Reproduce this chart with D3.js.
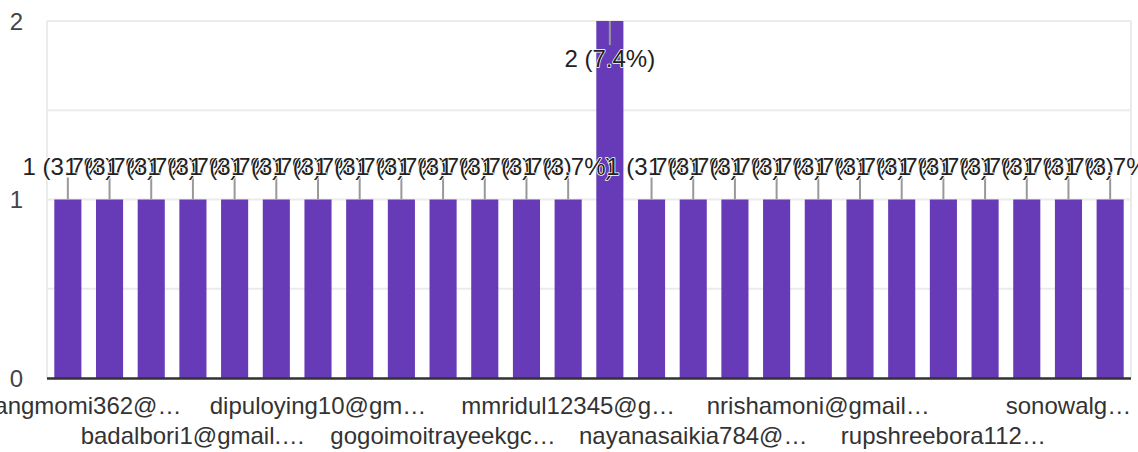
<!DOCTYPE html>
<html>
<head>
<meta charset="utf-8">
<script src="https://cdn.jsdelivr.net/npm/d3@7"></script>
<style>
	body { margin: 0; background: #fff; }
	text { font-family: Arial, "Liberation Sans", sans-serif; }
</style>
</head>
<body>
<div id="chart-area"></div>
<script>
// responses (only every third label is printed on the axis)
var categories = [
	"dohangmomi362@…", "", "", "badalbori1@gmail.…", "", "",
	"dipuloying10@gm…", "", "", "gogoimoitrayeekgc…", "", "",
	"mmridul12345@g…", "", "", "nayanasaikia784@…", "", "",
	"nrishamoni@gmail…", "", "", "rupshreebora112…", "", "",
	"sonowalg…", ""
];
var counts = [1,1,1,1,1,1,1,1,1,1,1,1,1,2,1,1,1,1,1,1,1,1,1,1,1,1];
var yTicks = [0, 1, 2];
var gridValues = [0, 0.5, 1, 1.5, 2];

var width = 1138, height = 452;
var total = d3.sum(counts);

var svg = d3.select("#chart-area")
	.append("svg")
		.attr("width", width)
		.attr("height", height);

//scales
var x = d3.scaleBand()
	.domain(d3.range(counts.length))
	.range([47, 1131])
	.paddingInner(0.35)
	.paddingOuter(0.175);

var y = d3.scaleLinear()
	.domain([0, 2])
	.range([378, 21]);

//grid box
svg.selectAll("line.grid")
	.data(gridValues)
	.enter().append("line")
		.attr("class", "grid")
		.attr("x1", 47)
		.attr("x2", 1131)
		.attr("y1", function(d){ return y(d); })
		.attr("y2", function(d){ return y(d); })
		.attr("stroke", "#ebebeb")
		.attr("stroke-width", 2);

svg.selectAll("line.vgrid")
	.data([47, 1131])
	.enter().append("line")
		.attr("class", "vgrid")
		.attr("x1", function(d){ return d; })
		.attr("x2", function(d){ return d; })
		.attr("y1", y(2))
		.attr("y2", y(0))
		.attr("stroke", "#ebebeb")
		.attr("stroke-width", 2);

//y labels
svg.selectAll("text.ytick")
	.data(yTicks)
	.enter().append("text")
		.attr("class", "ytick")
		.attr("x", 23)
		.attr("y", function(d){ return y(d) + 8.5; })
		.attr("text-anchor", "end")
		.attr("font-size", 24)
		.attr("fill", "#444")
		.text(function(d){ return d; });

//bars
svg.selectAll("rect.bar")
	.data(counts)
	.enter().append("rect")
		.attr("class", "bar")
		.attr("x", function(d, i){ return x(i); })
		.attr("y", function(d){ return y(d); })
		.attr("width", x.bandwidth())
		.attr("height", function(d){ return y(0) - y(d); })
		.attr("fill", "#673ab7");

//baseline
svg.append("line")
	.attr("x1", 47)
	.attr("x2", 1131)
	.attr("y1", y(0) + 0.5)
	.attr("y2", y(0) + 0.5)
	.attr("stroke", "#333")
	.attr("stroke-width", 2.7);

//x labels, staggered in two rows
var shown = categories.map(function(c, i){ return {label: c, i: i}; })
	.filter(function(d){ return d.label !== ""; });

svg.selectAll("text.xlabel")
	.data(shown)
	.enter().append("text")
		.attr("class", "xlabel")
		.attr("x", function(d){ return x(d.i) + x.bandwidth() / 2; })
		.attr("y", function(d, k){ return k % 2 == 0 ? 414 : 444; })
		.attr("text-anchor", "middle")
		.attr("font-size", 24)
		.attr("fill", "#333")
		.text(function(d){ return d.label; });

//annotations: stem + label, inside the bar when it would not fit above
var fmt = d3.format(".1%");
function inside(d){ return y(d) - 25 - 18 < y(2); }

svg.selectAll("line.stem")
	.data(counts)
	.enter().append("line")
		.attr("class", "stem")
		.attr("x1", function(d, i){ return x(i) + x.bandwidth() / 2; })
		.attr("x2", function(d, i){ return x(i) + x.bandwidth() / 2; })
		.attr("y1", function(d){ return y(d); })
		.attr("y2", function(d){ return inside(d) ? y(d) + 24 : y(d) - 22; })
		.attr("stroke", "#999")
		.attr("stroke-width", 2);

svg.selectAll("text.annot")
	.data(counts)
	.enter().append("text")
		.attr("class", "annot")
		.attr("x", function(d, i){ return x(i) + x.bandwidth() / 2; })
		.attr("y", function(d){ return inside(d) ? y(d) + 46 : y(d) - 25; })
		.attr("text-anchor", "middle")
		.attr("font-size", 24)
		.attr("fill", "#222")
		.attr("stroke", "#fff")
		.attr("stroke-width", 1.5)
		.attr("stroke-linejoin", "round")
		.attr("paint-order", "stroke")
		.text(function(d){ return d + " (" + fmt(d / total) + ")"; });
</script>
</body>
</html>
